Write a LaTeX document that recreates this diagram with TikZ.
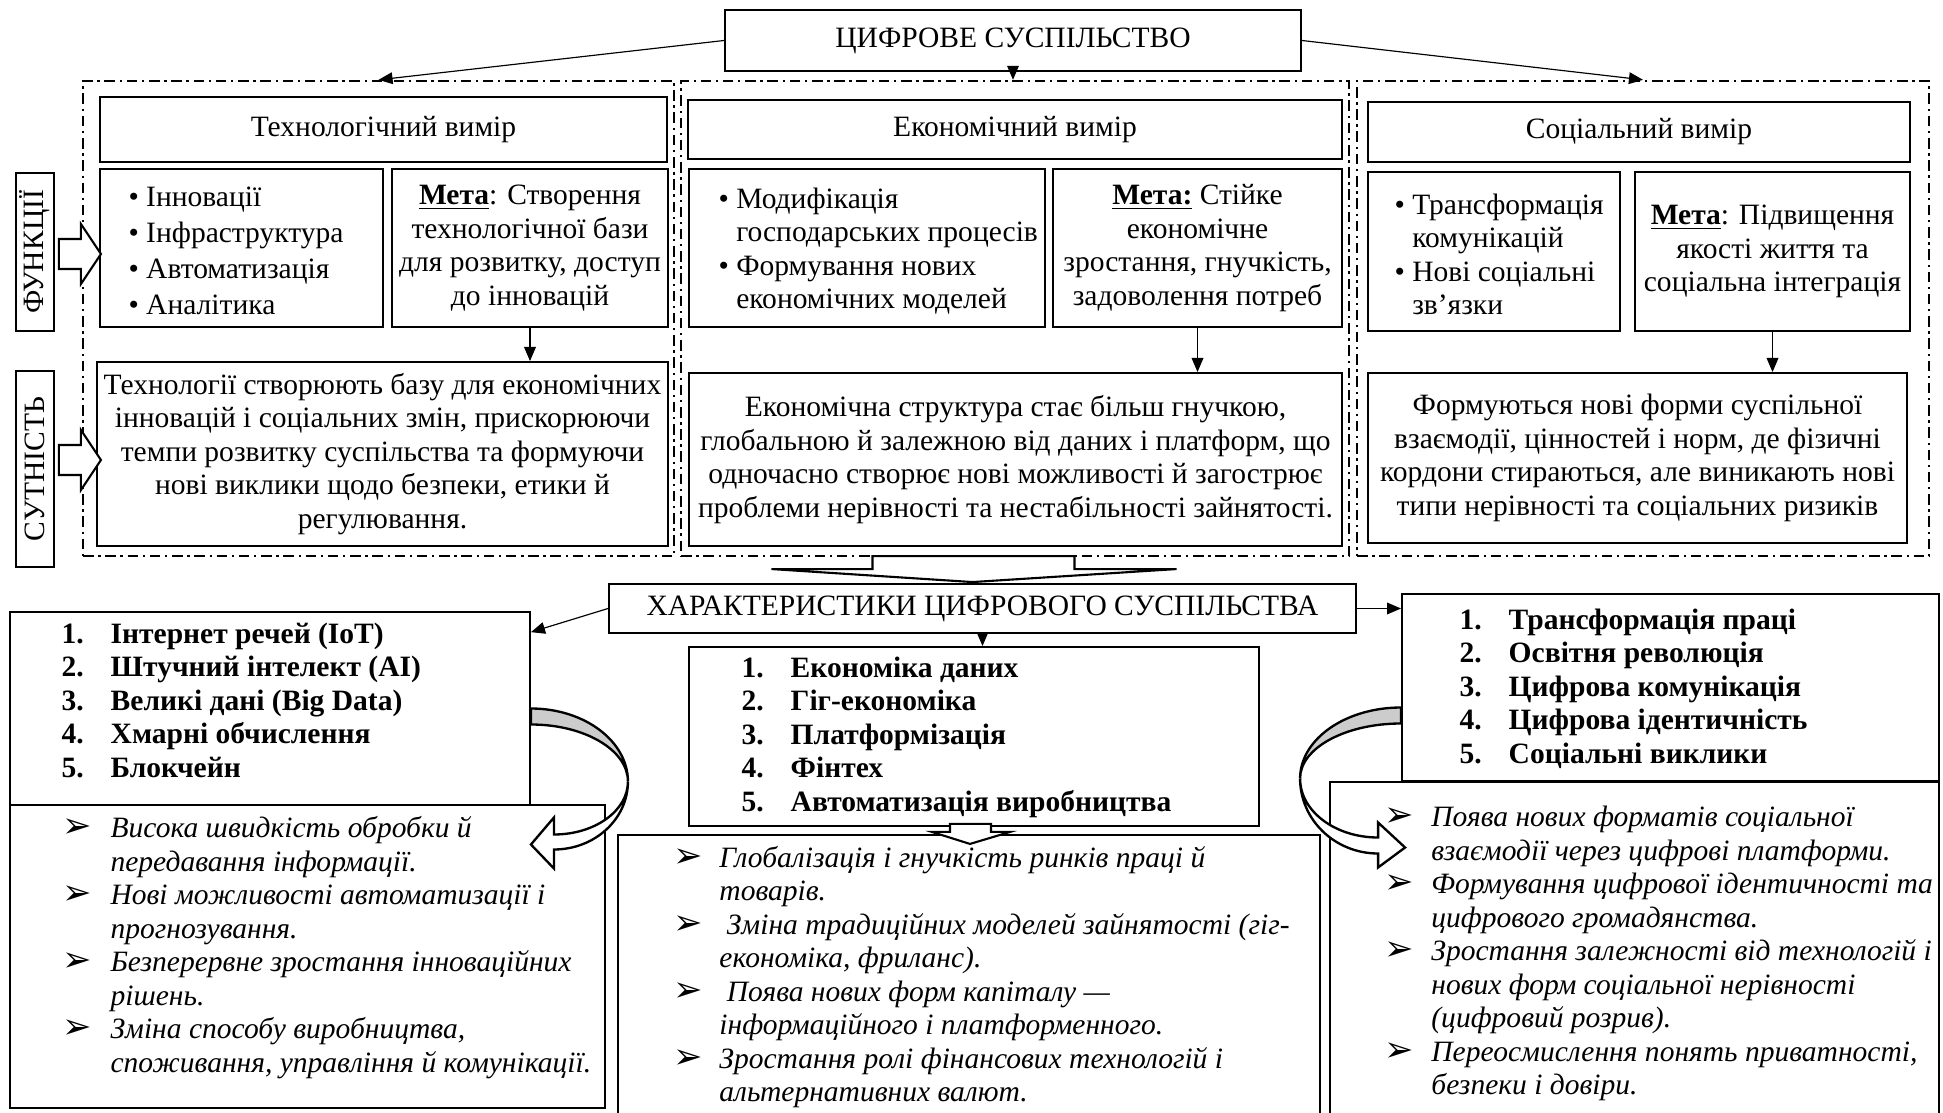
\documentclass[tikz,border=0pt]{standalone}
\usepackage{fontspec}
\setmainfont{Liberation Serif}
\newfontfamily\dejavu{DejaVu Sans}
\usetikzlibrary{arrows.meta,calc,fit}

\newcommand{\metamark}[1]{\underline{\textbf{#1}}}
\newcommand{\strilka}{{\upshape\dejavu\fontsize{15}{15}\selectfont ➢}}

\tikzset{
    box/.style={draw, line width=0.8pt, inner sep=0pt, align=center},
    frame/.style={draw, line width=1pt, inner sep=0pt, dash pattern=on 4.5pt off 2pt on 1pt off 2pt},
    conn/.style={-{Triangle[length=6pt,width=5pt]}, line width=0.5pt},
    fat/.style={draw, fill=white, line width=0.9pt},
    curv/.style={draw, line width=1pt},
    txt/.style={anchor=west, inner sep=0pt, align=left},
    lst/.style={anchor=west, inner sep=0pt},
}

\begin{document}
\begin{tikzpicture}[x=0.015cm, y=-0.015cm, font=\fontsize{12.6}{14.3}\selectfont]
        \useasboundingbox (0,0) rectangle (1943,1113);

        % Головний блок угорі.
        \node[box, minimum width=8.64cm, minimum height=0.915cm] (topBox) at (1013,40.5) {ЦИФРОВЕ СУСПІЛЬСТВО};

        % Три виміри в рамках штрихпунктиром.
        \node[frame, fit={(83,81) (674,556)}] (techFrame) {};
        \node[frame, fit={(681,81) (1349,556)}] (econFrame) {};
        \node[frame, fit={(1357,81) (1929,556)}] (socFrame) {};
        \draw[conn] (topBox.west) -- (techFrame.north);
        \draw[conn] (topBox.south) -- (topBox.south |- econFrame.north);
        \draw[conn] (topBox.east) -- (socFrame.north);

        % Технологічний вимір.
        \node[box, minimum width=8.505cm, minimum height=0.975cm] (techTitle) at (383.5,129.5) {Технологічний вимір};
        \node[box, fit={(100,169) (383,327)}] (techItems) {};
        \node[txt] (techItemsTxt) at ($(techItems.west)+(29,3)$)
            {\textbullet\ Інновації\\[1pt]\textbullet\ Інфраструктура\\[1pt]\textbullet\ Автоматизація\\[1pt]\textbullet\ Аналітика};
        \node[box, minimum width=4.14cm, minimum height=2.37cm] (techMeta) at (530,248)
            {\metamark{Мета}: Створення\\технологічної бази\\для розвитку, доступ\\до інновацій};
        \node[box, minimum width=8.565cm, minimum height=2.76cm] (techEss) at (382.5,454)
            {Технології створюють базу для економічних\\інновацій і соціальних змін, прискорюючи\\темпи розвитку суспільства та формуючи\\нові виклики щодо безпеки, етики й\\регулювання.};
        \draw[conn] (techMeta.south) -- (techMeta.south |- techEss.north);

        % Економічний вимір.
        \node[box, minimum width=9.81cm, minimum height=0.885cm] (econTitle) at (1015,129.5) {Економічний вимір};
        \node[box, fit={(689,169) (1045,327)}] (econItems) {};
        \node[txt] (econItemsTxt) at ($(econItems.west)+(30,3)$)
            {\textbullet\ Модифікація\\\phantom{\textbullet\ }господарських процесів\\\textbullet\ Формування нових\\\phantom{\textbullet\ }економічних моделей};
        \node[box, minimum width=4.335cm, minimum height=2.37cm] (econMeta) at (1197.5,248)
            {\metamark{Мета:} Стійке\\економічне\\зростання, гнучкість,\\задоволення потреб};
        \node[box, minimum width=9.795cm, minimum height=2.595cm] (econEss) at (1015.5,459.5)
            {Економічна структура стає більш гнучкою,\\глобальною й залежною від даних і платформ, що\\одночасно створює нові можливості й загострює\\проблеми нерівності та нестабільності зайнятості.};
        \draw[conn] (econMeta.south) -- (econMeta.south |- econEss.north);

        % Соціальний вимір.
        \node[box, minimum width=8.13cm, minimum height=0.9cm] (socTitle) at (1639,132) {Соціальний вимір};
        \node[box, fit={(1368,172) (1620,331)}] (socItems) {};
        \node[txt] (socItemsTxt) at ($(socItems.west)+(27,3)$)
            {\textbullet\ Трансформація\\\phantom{\textbullet\ }комунікацій\\\textbullet\ Нові соціальні\\\phantom{\textbullet\ }зв’язки};
        \node[box, minimum width=4.125cm, minimum height=2.385cm] (socMeta) at (1772.5,251.5)
            {\metamark{Мета}: Підвищення\\якості життя та\\соціальна інтеграція};
        \node[box, minimum width=8.085cm, minimum height=2.55cm] (socEss) at (1637.5,458)
            {Формуються нові форми суспільної\\взаємодії, цінностей і норм, де фізичні\\кордони стираються, але виникають нові\\типи нерівності та соціальних ризиків};
        \draw[conn] (socMeta.south) -- (socMeta.south |- socEss.north);

        % Підписи ліворуч і блокові стрілки до них.
        \node[box, rotate=90, minimum width=2.37cm, minimum height=0.57cm] (funcLbl) at (35,252) {ФУНКЦІЇ};
        \node[box, rotate=90, minimum width=2.94cm, minimum height=0.57cm] (essLbl) at (35,469) {СУТНІСТЬ};
        \draw[fat] ($(funcLbl.south)+(4,-13)$) -- ++(22,0) -- ++(0,-15) -- ++(20,30) -- ++(-20,30) -- ++(0,-15) -- ++(-22,0) -- cycle;
        \draw[fat] ($(essLbl.south)+(4,-24)$) -- ++(22,0) -- ++(0,-15) -- ++(20,30) -- ++(-20,30) -- ++(0,-15) -- ++(-22,0) -- cycle;

        % Характеристики цифрового суспільства.
        \node[box, minimum width=11.205cm, minimum height=0.735cm] (charsBox) at (982.5,608.5) {ХАРАКТЕРИСТИКИ ЦИФРОВОГО СУСПІЛЬСТВА};
        \draw[fat] ($(charsBox.north)+(-110,-27)$) -- ++(202,0) -- ++(0,13) -- ++(102,0) -- ++(-204,13) -- ++(-201,-13) -- ++(101,0) -- cycle;

        % Переліки характеристик.
        \node[box, fit={(10,612) (530,805)}] (techList) {};
        \node[lst] (techListTxt) at ($(techList.west)+(52,-5)$)
            {\bfseries\begin{tabular}{@{}p{21pt}@{}l@{}}
            1. & Інтернет речей (IoT)\\
            2. & Штучний інтелект (AI)\\
            3. & Великі дані (Big Data)\\
            4. & Хмарні обчислення\\
            5. & Блокчейн
            \end{tabular}};
        \node[box, fit={(689,647) (1259,826)}] (econList) {};
        \node[lst] (econListTxt) at ($(econList.west)+(53,1)$)
            {\bfseries\begin{tabular}{@{}p{21pt}@{}l@{}}
            1. & Економіка даних\\
            2. & Гіг-економіка\\
            3. & Платформізація\\
            4. & Фінтех\\
            5. & Автоматизація виробництва
            \end{tabular}};
        \node[box, fit={(1402,594) (1939,781)}] (socList) {};
        \node[lst] (socListTxt) at ($(socList.west)+(58,2)$)
            {\bfseries\begin{tabular}{@{}p{21pt}@{}l@{}}
            1. & Трансформація праці\\
            2. & Освітня революція\\
            3. & Цифрова комунікація\\
            4. & Цифрова ідентичність\\
            5. & Соціальні виклики
            \end{tabular}};
        \draw[conn] (charsBox.west) -- ([yshift=-9pt]techList.north east);
        \draw[conn] (charsBox.south) -- (charsBox.south |- econList.north);
        \draw[conn] (charsBox.east) -- (socList.west |- charsBox.east);

        % Наслідки для кожного виміру.
        \node[box, fit={(10,805) (605,1108)}] (techBul) {};
        \node[lst] (techBulTxt) at ($(techBul.west)+(53,-8)$)
            {\itshape\begin{tabular}{@{}p{20.5pt}@{}l@{}}
            \strilka & Висока швидкість обробки й\\
                     & передавання інформації.\\
            \strilka & Нові можливості автоматизації і\\
                     & прогнозування.\\
            \strilka & Безперервне зростання інноваційних\\
                     & рішень.\\
            \strilka & Зміна способу виробництва,\\
                     & споживання, управління й комунікації.
            \end{tabular}};
        \node[box, fit={(618,835) (1320,1121)}] (econBul) {};
        \node[lst] (econBulTxt) at ($(econBul.west)+(56,0)$)
            {\itshape\begin{tabular}{@{}p{19.6pt}@{}l@{}}
            \strilka & Глобалізація і гнучкість ринків праці й\\
                     & товарів.\\
            \strilka & \ Зміна традиційних моделей зайнятості (гіг-\\
                     & економіка, фриланс).\\
            \strilka & \ Поява нових форм капіталу —\\
                     & інформаційного і платформенного.\\
            \strilka & Зростання ролі фінансових технологій і\\
                     & альтернативних валют.
            \end{tabular}};
        \draw[fat] ($(econList.south)+(-24,-3)$) -- ++(41,0) -- ++(0,8) -- ++(19,0) -- ++(-40,12) -- ++(-38,-12) -- ++(18,0) -- cycle;
        \node[box, fit={(1330,782) (1939,1126)}] (socBul) {};
        \node[lst] (socBulTxt) at ($(socBul.west)+(55,0)$)
            {\itshape\begin{tabular}{@{}p{20pt}@{}l@{}}
            \strilka & Поява нових форматів соціальної\\
                     & взаємодії через цифрові платформи.\\
            \strilka & Формування цифрової ідентичності та\\
                     & цифрового громадянства.\\
            \strilka & Зростання залежності від технологій і\\
                     & нових форм соціальної нерівності\\
                     & (цифровий розрив).\\
            \strilka & Переосмислення понять приватності,\\
                     & безпеки і довіри.
            \end{tabular}};

        % Вигнуті стрілки від переліків до наслідків.
        \filldraw[curv, fill=gray!40] (techList.east) arc[start angle=-90, end angle=0, x radius=97, y radius=73]
            arc[start angle=0, end angle=-90, x radius=97, y radius=57] -- cycle;
        \filldraw[curv, fill=white] ($(techList.east)+(97,73)$) arc[start angle=0, end angle=90, x radius=74, y radius=68]
            -- ++(0,19) -- ++(-23,-24) -- ++(23,-27) -- ++(0,17)
            arc[start angle=90, end angle=0, x radius=74, y radius=53] -- cycle;
        \filldraw[curv, fill=gray!40] ($(socList.west)+(0,20)$) arc[start angle=-90, end angle=-180, x radius=101, y radius=71]
            arc[start angle=180, end angle=270, x radius=101, y radius=55] -- cycle;
        \filldraw[curv, fill=white] ($(socList.west)+(-101,91)$) arc[start angle=180, end angle=90, x radius=78, y radius=75]
            -- ++(0,14) -- ++(27,-20) -- ++(-27,-25) -- ++(0,15)
            arc[start angle=90, end angle=180, x radius=78, y radius=59] -- cycle;
\end{tikzpicture}
\end{document}
